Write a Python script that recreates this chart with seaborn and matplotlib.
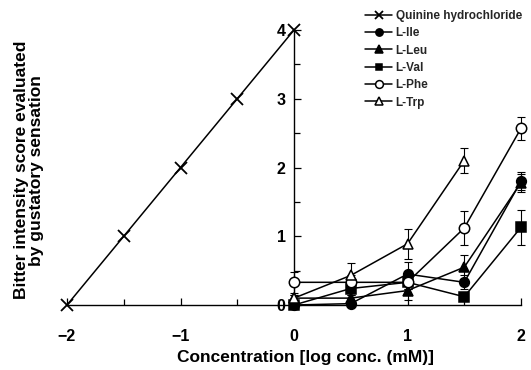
import numpy as np
import pandas as pd
import matplotlib
matplotlib.use("Agg")
import matplotlib.pyplot as plt
import seaborn as sns
from matplotlib.ticker import MultipleLocator

# ---- data ----
quinine_x = [-2, -1.5, -1, -0.5, 0]
quinine_y = [0, 1, 2, 3, 4]

aa_x = [0, 0.5, 1, 1.5, 2]
ile_y = [0.0, 0.02, 0.45, 0.33, 1.80]
ile_err = [0.04, 0.04, 0.17, 0.10, 0.13]
leu_y = [0.10, 0.10, 0.21, 0.55, 1.78]
leu_err = [0.05, 0.05, 0.13, 0.18, 0.13]
val_y = [0.0, 0.24, 0.33, 0.12, 1.13]
val_err = [0.02, 0.10, 0.10, 0.05, 0.25]
phe_y = [0.33, 0.33, 0.33, 1.12, 2.57]
phe_err = [0.15, 0.10, 0.10, 0.25, 0.17]
trp_x = [0, 0.5, 1, 1.5]
trp_y = [0.10, 0.43, 0.89, 2.10]
trp_err = [0.05, 0.18, 0.22, 0.18]

x_ticks = [-2, -1, 0, 1, 2]
y_ticks = [0, 1, 2, 3, 4]

series = [
    ("Quinine hydrochloride", quinine_x, quinine_y, None, "x", "black", 8),
    ("L-Ile", aa_x, ile_y, ile_err, "o", "black", 7),
    ("L-Leu", aa_x, leu_y, leu_err, "^", "black", 7),
    ("L-Val", aa_x, val_y, val_err, "s", "black", 6.5),
    ("L-Phe", aa_x, phe_y, phe_err, "o", "white", 7.5),
    ("L-Trp", trp_x, trp_y, trp_err, "^", "white", 7.5),
]

sns.set_theme(style="white")
plt.rcParams["font.family"] = ["Liberation Sans", "DejaVu Sans"]
plt.rcParams["font.weight"] = "bold"

fig = plt.figure(figsize=(5.31, 3.70), dpi=100)
ax = fig.add_axes([67 / 531, 65 / 370, 454 / 531, 275 / 370])

handles = []
for name, xs, ys, err, mk, fc, ms in series:
    df = pd.DataFrame({"x": xs, "y": ys})
    if err is not None:
        ax.errorbar(xs, ys, yerr=err, fmt="none", ecolor="black",
                    elinewidth=0.8, capsize=3, capthick=0.8, clip_on=False, zorder=2)
    sns.lineplot(data=df, x="x", y="y", ax=ax, color="black", linewidth=1.1,
                 marker=mk, markersize=ms, markerfacecolor=fc,
                 markeredgecolor="black", markeredgewidth=1.1 if mk != "x" else 1.3,
                 clip_on=False, zorder=3, label=name, legend=False)
    handles.append(ax.lines[-1])

ax.set_xlim(-2, 2)
ax.set_ylim(0, 4)

for s in ["top", "right"]:
    ax.spines[s].set_visible(False)
ax.spines["left"].set_position(("data", 0))
ax.spines["bottom"].set_position(("data", 0))
for s in ["left", "bottom"]:
    ax.spines[s].set_color("black")
    ax.spines[s].set_linewidth(1.0)

ax.set_xticks(x_ticks)
ax.set_yticks(y_ticks)
ax.xaxis.set_minor_locator(MultipleLocator(0.5))
ax.yaxis.set_minor_locator(MultipleLocator(0.5))
ax.tick_params(axis="both", which="both", direction="in", color="black",
               width=0.9, bottom=True, left=True)
ax.tick_params(axis="both", which="major", length=5, labelsize=11.5,
               labelcolor="black")
ax.tick_params(axis="both", which="minor", length=4)
ax.tick_params(axis="x", which="major", pad=17)
ax.tick_params(axis="y", which="major", pad=6)
ax.set_xticklabels([("\u2212%d" % abs(v)) if v < 0 else str(v) for v in x_ticks],
                   fontweight="bold")
ax.set_yticklabels([str(v) for v in y_ticks], fontweight="bold")

ax.set_xlabel("Concentration [log conc. (mM)]", fontsize=12.5, fontweight="bold",
              color="black")
ax.xaxis.set_label_coords(0.526, -0.165)
ax.set_ylabel("Bitter intensity score evaluated\nby gustatory sensation",
              fontsize=12.5, fontweight="bold", color="black", linespacing=1.05)
ax.yaxis.set_label_coords(-0.05, 0.49)

fig.legend(handles=handles, labels=[s[0] for s in series], loc="upper left",
           bbox_to_anchor=(365 / 531, 1 - 10 / 370), frameon=False,
           handlelength=2.3, handletextpad=0.3,
           labelspacing=0.45, markerscale=0.75, borderaxespad=0, borderpad=0,
           prop={"weight": "bold", "size": 8.5})

fig.savefig("out.png", dpi=100, facecolor="white")
